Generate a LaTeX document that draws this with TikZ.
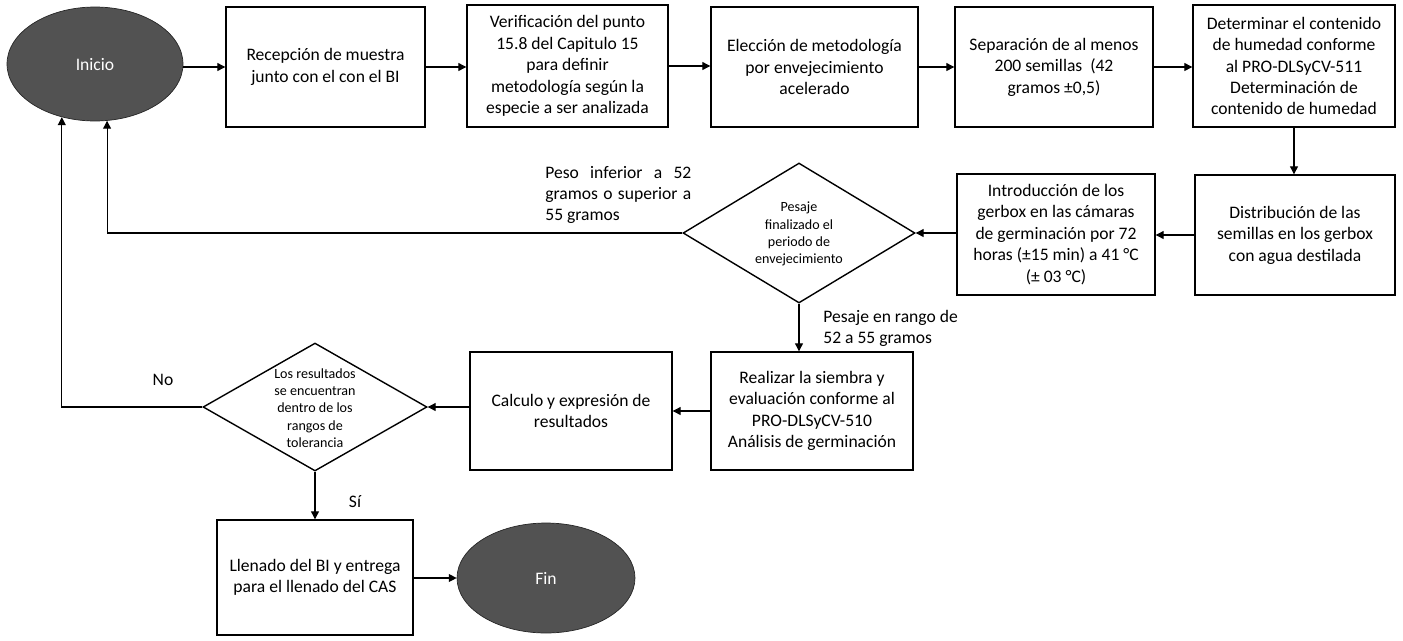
\documentclass[tikz,border=0pt]{standalone}
\usepackage{fontspec}
\setmainfont{Carlito}
\usetikzlibrary{arrows.meta,shapes.geometric}
\begin{document}
\begin{tikzpicture}[x=0.02cm,y=-0.02cm,
  box/.style={draw,line width=0.8pt,rectangle,inner sep=2pt,align=center,font=\fontsize{10}{12.2}\selectfont},
  term/.style={ellipse,draw=black!85,fill=black!68,text=white,inner sep=0pt,font=\fontsize{10}{12.2}\selectfont},
  dec/.style={diamond,draw,line width=0.8pt,inner sep=0pt},
  dtext/.style={align=center,font=\fontsize{8}{9.8}\selectfont,inner sep=0pt},
  lbl/.style={font=\fontsize{10}{12.2}\selectfont,inner sep=0pt,align=left},
  arr/.style={line width=0.6pt,-{Triangle[length=4.5pt,width=4.5pt]}}]
\useasboundingbox (0,0) rectangle (1403,640);

% terminals
\node[term,minimum width=3.52cm,minimum height=2.28cm,text depth=-0.08cm] (ini) at (95,64) {Inicio};
\node[term,minimum width=3.56cm,minimum height=2.2cm] (fin) at (546,578) {Fin};

% top row
\node[box,minimum width=3.98cm,minimum height=2.4cm] (rec) at (325.5,67) {Recepción de muestra\\junto con el con el BI};
\node[box,minimum width=4.02cm,minimum height=2.44cm] (ver) at (567.5,66) {Verificación del punto\\15.8 del Capitulo 15\\para definir\\metodología según la\\especie a ser analizada};
\node[box,minimum width=4.14cm,minimum height=2.4cm] (ele) at (814.5,67) {Elección de metodología\\por envejecimiento\\acelerado};
\node[box,minimum width=3.96cm,minimum height=2.4cm] (sep) at (1054,67) {Separación de al menos\\200 semillas~ (42\\gramos ±0,5)};
\node[box,minimum width=4.04cm,minimum height=2.44cm] (det) at (1294,66) {Determinar el contenido\\de humedad conforme\\al PRO-DLSyCV-511\\Determinación de\\contenido de humedad};

% second row
\node[box,minimum width=4.0cm,minimum height=2.4cm] (dis) at (1295,235) {Distribución de las\\semillas en los gerbox\\con agua destilada};
\node[box,minimum width=3.96cm,minimum height=2.42cm] (intro) at (1056,234.5) {Introducción de los\\gerbox en las cámaras\\de germinación por 72\\horas (±15 min) a 41 °C\\(± 03 °C)};
\node[dec,minimum width=4.64cm,minimum height=2.8cm] (d1) at (799,233) {};
\node[dtext] (d1t) at (799,234) {Pesaje\\finalizado el\\periodo de\\envejecimiento};

% third row
\node[box,minimum width=4.04cm,minimum height=2.36cm] (real) at (812,411) {Realizar la siembra y\\evaluación conforme al\\PRO-DLSyCV-510\\Análisis de germinación};
\node[box,minimum width=4.04cm,minimum height=2.36cm] (calc) at (571,411) {Calculo y expresión de\\resultados};
\node[dec,minimum width=4.48cm,minimum height=2.56cm] (d2) at (315,407) {};
\node[dtext] (d2t) at (315,408) {Los resultados\\se encuentran\\dentro de los\\rangos de\\tolerancia};

% bottom
\node[box,minimum width=3.92cm,minimum height=2.3cm] (llen) at (315,577.5) {Llenado del BI y entrega\\para el llenado del CAS};

% labels
\node[lbl,anchor=west] (peso) at (545,195) {\makebox[2.92cm][s]{Peso inferior a 52}\\\makebox[2.92cm][s]{gramos o superior a}\\55 gramos};
\node[lbl,anchor=west] (rango) at (823,328.5) {Pesaje en rango de\\52 a 55 gramos};
\node[lbl] (no) at (163,380) {No};
\node[lbl] (si) at (355,502) {Sí};

% connectors
\draw[arr] (ini.east |- rec.west) -- (rec.west);
\draw[arr] (rec.east) -- (rec.east -| ver.west);
\draw[arr] (ver.east) -- (ver.east -| ele.west);
\draw[arr] (ele.east) -- (ele.east -| sep.west);
\draw[arr] (sep.east) -- (sep.east -| det.west);
\draw[arr] (det.south) -- (det.south |- dis.north);
\draw[arr] (dis.west) -- (dis.west -| intro.east);
\draw[arr] (d1.east -| intro.west) -- (d1.east);
\draw[arr] (d1.west) -| (ini.282);
\draw[arr] (d1.south) -- (d1.south |- real.north);
\draw[arr] (real.west) -- (real.west -| calc.east);
\draw[arr] (d2.east -| calc.west) -- (d2.east);
\draw[arr] (d2.west) -| (ini.238);
\draw[arr] (d2.south) -- (llen.north);
\draw[arr] (llen.east |- fin.west) -- (fin.west);
\end{tikzpicture}
\end{document}
